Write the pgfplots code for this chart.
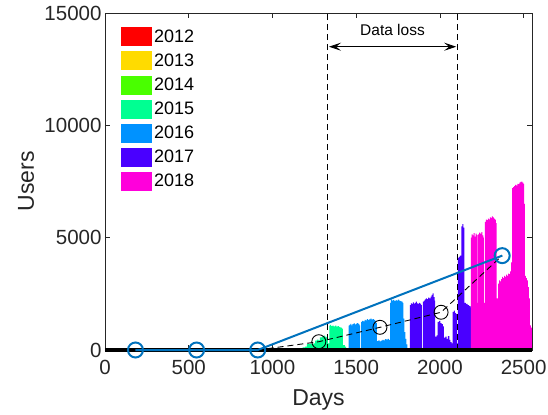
\documentclass[border=0pt]{standalone}
\usepackage{pgfplots}
\pgfplotsset{compat=1.18}
\usepackage{fontspec}
\setmainfont{Liberation Sans}
\usetikzlibrary{arrows.meta}
\definecolor{c2012}{rgb}{1,0,0}
\definecolor{c2013}{rgb}{1,0.857,0}
\definecolor{c2014}{rgb}{0.286,1,0}
\definecolor{c2015}{rgb}{0,1,0.571}
\definecolor{c2016}{rgb}{0,0.571,1}
\definecolor{c2017}{rgb}{0.286,0,1}
\definecolor{c2018}{rgb}{1,0,0.857}
\definecolor{mblue}{rgb}{0,0.447,0.741}
\definecolor{axgray}{rgb}{0.15,0.15,0.15}
\begin{document}
\begin{tikzpicture}
\begin{axis}[
  scale only axis, width=427pt, height=337pt,
  xmin=0, xmax=2550, ymin=0, ymax=15000,
  xtick={0,500,1000,1500,2000,2500}, ytick={0,5000,10000,15000},
  scaled y ticks=false, scaled x ticks=false,
  tick align=inside, major tick length=5pt,
  axis line style={axgray, line width=0.6pt},
  tick style={axgray, line width=0.6pt},
  /pgf/number format/assume math mode=true,
  /pgf/number format/1000 sep={},
  ticklabel style={font=\fontsize{20.5}{24}\selectfont, text=axgray},
  xticklabel style={yshift=-7pt},
  xlabel={Days}, ylabel={Users},
  label style={font=\fontsize{23}{27}\selectfont, text=axgray},
  xlabel style={at={(rel axis cs:0.5,-0.165)}, anchor=base},
  ylabel style={at={(rel axis cs:-0.185,0.5)}, anchor=center},
  clip=false,
  legend style={at={(rel axis cs:0.0363,0.958)}, anchor=north west, draw=none, fill=none,
    inner sep=0pt, row sep=5pt, nodes={inner sep=2.5pt},
    font=\fontsize{18}{21}\selectfont},
  legend cell align=left,
  legend image code/.code={\fill[#1] (0pt,-9.5pt) rectangle (31pt,9.5pt);},
]
\coordinate (bbl) at (rel axis cs:-0.2459,-0.1899);
\coordinate (btr) at (rel axis cs:1.0375,1.0386);

\addplot[const plot, fill=c2012, draw=none] coordinates {(0,5)(366,5)} \closedcycle;
\addlegendentry{2012}
\addplot[const plot, fill=c2013, draw=none] coordinates {(366,10)(731,10)} \closedcycle;
\addlegendentry{2013}
\addplot[const plot, fill=c2014, draw=none] coordinates {(731,15)(900,20)(1000,30)(1096,30)} \closedcycle;
\addlegendentry{2014}
\addplot[const plot, fill=c2015, draw=none] coordinates {
(1096,20)(1130,40)(1180,120)(1195,150)(1205,260)(1220,280)(1235,250)(1245,300)
(1255,420)(1265,460)(1275,430)(1284,560)(1295,600)(1305,640)(1313,600)(1322,560)
(1331,300)(1340,1080)(1345,1120)(1350,1060)(1358,1090)(1366,1050)(1374,1080)(1382,1040)
(1390,1060)(1398,1020)(1406,1000)(1414,950)(1420,220)(1432,150)(1440,0)(1455,0)} \closedcycle;
\addlegendentry{2015}
\addplot[const plot, fill=c2016, draw=none] coordinates {
(1455,1080)(1460,1120)(1466,1160)(1472,1100)(1478,1150)(1485,1180)(1492,1140)(1499,1170)
(1506,1200)(1513,1150)(1519,1100)(1524,0)(1529,1250)(1536,1300)(1543,1280)(1550,1340)
(1557,1320)(1564,1370)(1571,1330)(1578,1360)(1585,1400)(1592,1350)(1599,1380)(1606,1340)
(1613,1300)(1619,1200)(1624,400)(1632,430)(1640,380)(1648,420)(1656,450)(1664,430)
(1672,480)(1680,460)(1688,500)(1696,450)(1703,2100)(1708,2250)(1714,2200)(1721,2230)
(1728,2180)(1735,2220)(1742,2200)(1749,2240)(1756,2200)(1763,2180)(1770,2150)(1777,2100)
(1782,1400)(1788,800)(1794,500)(1800,250)(1806,0)(1821,0)} \closedcycle;
\addlegendentry{2016}
\addplot[const plot, fill=c2017, draw=none] coordinates {
(1821,2000)(1827,2080)(1833,2050)(1839,2120)(1845,2060)(1851,2100)(1857,2150)(1863,2080)
(1869,2050)(1875,2100)(1881,2060)(1888,2000)(1893,0)(1898,2150)(1904,2200)(1910,2250)
(1916,2300)(1923,2260)(1930,2330)(1937,2300)(1944,2380)(1951,2450)(1956,2520)(1962,2350)
(1968,2200)(1972,600)(1980,650)(1987,1250)(1995,1300)(2003,1200)(2011,1150)(2018,1050)
(2024,550)(2032,600)(2040,500)(2048,620)(2056,450)(2062,350)(2070,300)(2076,1700)
(2083,1750)(2090,1650)(2097,1600)(2102,300)(2108,4100)(2114,4150)(2120,4200)(2128,5500)
(2134,5600)(2140,5450)(2146,2100)(2155,2050)(2165,2000)(2175,1950)(2183,1900)(2185,1900)} \closedcycle;
\addlegendentry{2017}
\addplot[const plot, fill=c2018, draw=none] coordinates {
(2185,5000)(2190,5150)(2196,5100)(2202,5200)(2208,5050)(2214,5180)(2220,5120)(2226,2100)
(2229,5150)(2235,5220)(2241,5180)(2247,5250)(2253,5100)(2259,5000)(2263,2100)(2268,5700)
(2274,5800)(2280,5780)(2286,5850)(2292,5820)(2298,5900)(2304,5880)(2310,5950)(2316,5900)
(2322,5850)(2328,5800)(2334,5650)(2339,2300)(2348,2950)(2354,3100)(2360,3050)(2366,3150)
(2372,3250)(2378,3200)(2384,3300)(2390,3250)(2396,3350)(2402,3300)(2408,3400)(2414,3380)
(2420,3500)(2426,3900)(2432,7200)(2438,7250)(2444,7300)(2450,7350)(2456,7320)(2462,7400)
(2468,7380)(2474,7450)(2480,7480)(2486,7500)(2492,7450)(2498,7400)(2503,6500)(2507,3300)
(2513,3200)(2519,3100)(2525,2800)(2531,2300)(2537,1100)(2543,1000)(2550,1000)} \closedcycle;
\addlegendentry{2018}

\addplot[black, line width=3.3pt, forget plot] coordinates {(0,0)(2550,0)};
\addplot[black, line width=0.9pt, dash pattern=on 6pt off 4pt, mark=o, mark size=7pt,
  mark options={solid, line width=0.9pt}, mark indices={2,3,4}, forget plot]
  coordinates {(912,0)(1277,370)(1642,1010)(2007,1680)(2372,4200)};
\addplot[mblue, line width=2pt, mark=o, mark size=7.5pt, mark options={solid, line width=2pt}, forget plot]
  coordinates {(182,0)(547,0)(912,0)(2372,4200)};

\draw[black, line width=0.8pt, dash pattern=on 6pt off 4pt] (axis cs:1330,0) -- (axis cs:1330,15000);
\draw[black, line width=0.8pt, dash pattern=on 6pt off 4pt] (axis cs:2105,0) -- (axis cs:2105,15000);
\draw[black, line width=0.8pt, {Stealth[length=12pt,width=8pt,inset=5pt]}-{Stealth[length=12pt,width=8pt,inset=5pt]}]
  (axis cs:1338,13500) -- (axis cs:2097,13500);
\node[font=\fontsize{15.5}{18}\selectfont, text=black] at (axis cs:1717,14250) {Data loss};
\end{axis}
\pgfresetboundingbox
\path[use as bounding box] (bbl) rectangle (btr);
\end{tikzpicture}
\end{document}
